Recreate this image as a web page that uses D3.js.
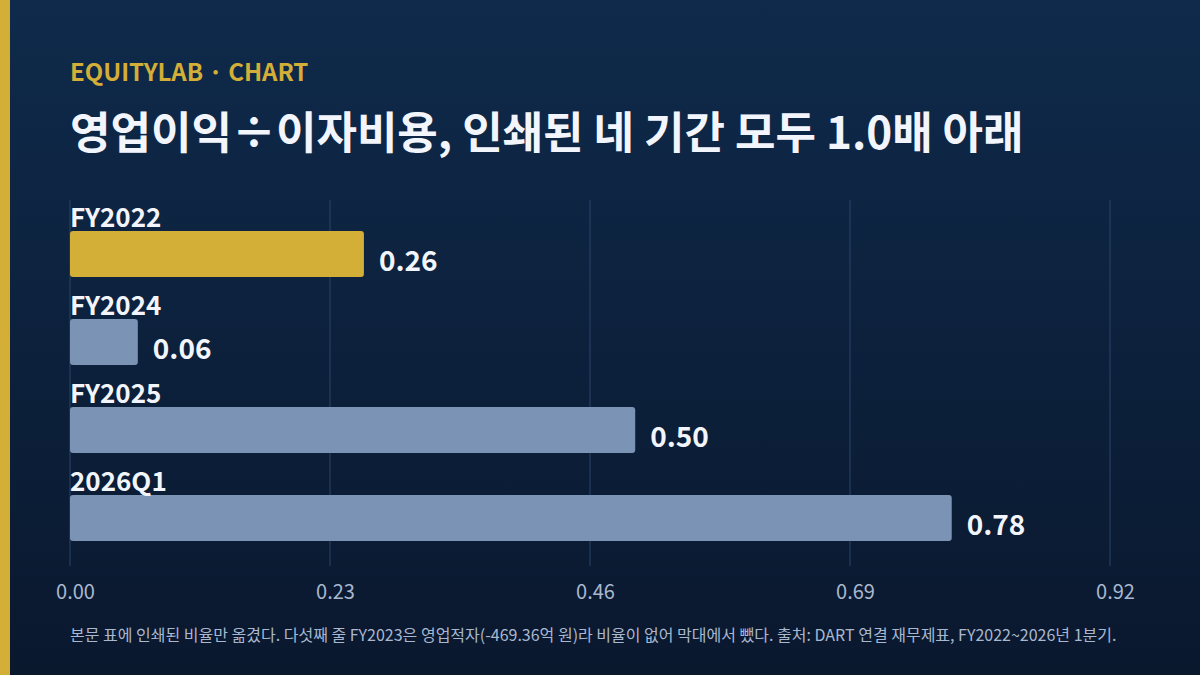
<!DOCTYPE html>
<html>
<head>
<meta charset="utf-8">
<script src="https://cdn.jsdelivr.net/npm/d3@7"></script>
<style>
  html, body { margin: 0; padding: 0; background: #0b1b33; }
  svg { display: block; font-family: "Noto Sans CJK KR", "Noto Sans", sans-serif; }
</style>
</head>
<body>
<script>
// chart data
var periods = ["FY2022", "FY2024", "FY2025", "2026Q1"];
var ratios = [0.26, 0.06, 0.50, 0.78];
var tickValues = [0, 0.23, 0.46, 0.69, 0.92];
var highlight = "FY2022";

var W = 1200, H = 675;
var svg = d3.select("body").append("svg")
  .attr("width", W)
  .attr("height", H);

// background gradient
var defs = svg.append("defs");
var grad = defs.append("linearGradient")
  .attr("id", "bg")
  .attr("x1", 0).attr("y1", 0)
  .attr("x2", 0).attr("y2", 1);
grad.append("stop").attr("offset", "0%").attr("stop-color", "#0f2a4b");
grad.append("stop").attr("offset", "100%").attr("stop-color", "#0a182e");

svg.append("rect")
  .attr("width", W)
  .attr("height", H)
  .attr("fill", "url(#bg)");

// left accent stripe
svg.append("rect")
  .attr("width", 10)
  .attr("height", H)
  .attr("fill", "#d4af37");

// header
svg.append("text")
  .attr("x", 70)
  .attr("y", 81)
  .attr("fill", "#d4af37")
  .attr("font-size", 24)
  .attr("font-weight", 700)
  .text("EQUITYLAB · CHART");

svg.append("text")
  .attr("x", 70)
  .attr("y", 149)
  .attr("fill", "#f2f5fb")
  .attr("font-size", 44)
  .attr("font-weight", 700)
  .text("영업이익÷이자비용, 인쇄된 네 기간 모두 1.0배 아래");

// scales
var x = d3.scaleLinear()
  .domain([0, 0.92])
  .range([70, 1110]);

var y = d3.scaleBand()
  .domain(periods)
  .range([231, 541])
  .paddingInner(0.477)
  .paddingOuter(0);

var data = periods.map(function (p, i) { return { period: p, value: ratios[i] }; });

// grid lines
svg.append("g")
  .selectAll("line")
  .data(tickValues)
  .enter()
  .append("line")
  .attr("x1", function (d) { return x(d); })
  .attr("x2", function (d) { return x(d); })
  .attr("y1", 200)
  .attr("y2", 566)
  .attr("stroke", "#2a4468")
  .attr("stroke-width", 1);

// axis
var axis = svg.append("g")
  .attr("transform", "translate(0,566)")
  .call(d3.axisBottom(x)
    .tickValues(tickValues)
    .tickFormat(d3.format(".2f"))
    .tickSize(0)
    .tickPadding(19));
axis.select(".domain").remove();
axis.attr("font-family", null).attr("font-size", null);
axis.selectAll("text")
  .attr("dx", 5)
  .attr("fill", "#a9b8cf")
  .attr("font-size", 20);

// bars
svg.append("g")
  .selectAll("rect")
  .data(data)
  .enter()
  .append("rect")
  .attr("x", x(0))
  .attr("y", function (d) { return y(d.period); })
  .attr("width", function (d) { return x(d.value) - x(0); })
  .attr("height", y.bandwidth())
  .attr("rx", 3)
  .attr("fill", function (d) { return d.period === highlight ? "#d4af37" : "#7b93b4"; });

// category labels
svg.append("g")
  .selectAll("text")
  .data(data)
  .enter()
  .append("text")
  .attr("x", x(0))
  .attr("y", function (d) { return y(d.period) - 4; })
  .attr("fill", "#f2f5fb")
  .attr("font-size", 26)
  .attr("font-weight", 700)
  .text(function (d) { return d.period; });

// value labels
svg.append("g")
  .selectAll("text")
  .data(data)
  .enter()
  .append("text")
  .attr("x", function (d) { return x(d.value) + 15; })
  .attr("y", function (d) { return y(d.period) + y.bandwidth() / 2 + 9; })
  .attr("dominant-baseline", "middle")
  .attr("fill", "#f2f5fb")
  .attr("font-size", 28)
  .attr("font-weight", 700)
  .text(function (d) { return d3.format(".2f")(d.value); });

// footer note
svg.append("text")
  .attr("x", 70)
  .attr("y", 641)
  .attr("fill", "#a9b8cf")
  .attr("font-size", 16)
  .text("본문 표에 인쇄된 비율만 옮겼다. 다섯째 줄 FY2023은 영업적자(-469.36억 원)라 비율이 없어 막대에서 뺐다. 출처: DART 연결 재무제표, FY2022~2026년 1분기.");
</script>
</body>
</html>
